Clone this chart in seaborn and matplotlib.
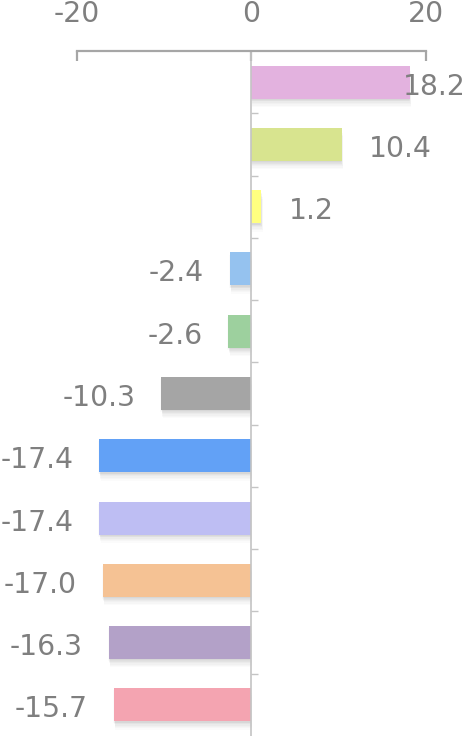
import matplotlib
matplotlib.use("Agg")
import matplotlib.pyplot as plt
import matplotlib.patheffects as pe
import matplotlib.transforms as mtransforms
import seaborn as sns
import pandas as pd

# Data
items = ["Item 1", "Item 2", "Item 3", "Item 4", "Item 5", "Item 6",
         "Item 7", "Item 8", "Item 9", "Item 10", "Item 11"]
values = [18.2, 10.4, 1.2, -2.4, -2.6, -10.3, -17.4, -17.4, -17.0, -16.3, -15.7]
colors = ["#E3B2DF", "#D8E48F", "#FFFF80", "#95C2EF", "#9DD09E", "#A5A5A5",
          "#62A1F6", "#BEBEF3", "#F5C294", "#B3A1C8", "#F4A4B1"]
x_ticks = [-20, 0, 20]

sns.set_theme(style="white")
plt.rcParams["font.family"] = ["DejaVu Sans"]
plt.rcParams["axes.unicode_minus"] = False

W, H = 468, 736
FS = 20.3
DY = -4.5 / 100
fig = plt.figure(figsize=(W / 100, H / 100), dpi=100)
ax = fig.add_axes([0, 0, 1, 685 / 736])

df = pd.DataFrame({"item": items, "value": values})
sns.barplot(data=df, x="value", y="item", hue="item", palette=colors,
            orient="h", width=0.53, dodge=False, legend=False, ax=ax,
            saturation=1)

# soft drop shadow under each bar
shadow = [pe.SimplePatchShadow(offset=(ox, -oy), shadow_rgbFace="black", alpha=a)
          for ox, oy, a in ((0, 1.0, 0.03), (0.3, 2.0, 0.03), (0.5, 3.0, 0.025),
                            (0.7, 4.0, 0.02), (0.9, 5.0, 0.02), (1.0, 6.0, 0.015),
                            (-0.8, 1.5, 0.015))]
for p in ax.patches:
    p.set_edgecolor("none")
    p.set_path_effects(shadow + [pe.Normal()])

ax.set_xlim(-28.77, 24.87)
ax.set_ylim(len(items) - 0.5, -0.5)
ax.set_xlabel("")
ax.set_ylabel("")

# top axis with bounded spine
for s in ["bottom", "right"]:
    ax.spines[s].set_visible(False)
ax.spines["top"].set_visible(True)
ax.spines["top"].set_bounds(-20, 20)
ax.spines["top"].set_color("#A6A6A6")
ax.spines["top"].set_linewidth(1.6)
ax.xaxis.tick_top()
ax.set_xticks(x_ticks)
ax.set_xticklabels([str(t) for t in x_ticks])
ax.tick_params(axis="x", which="major", direction="in", length=7, width=1.6,
               color="#A6A6A6", pad=16.5, labelsize=FS, labelcolor="#7F7F7F")

# zero line with category separators
ax.spines["left"].set_position(("data", 0))
ax.spines["left"].set_color("#C4C4C4")
ax.spines["left"].set_linewidth(1.2)
ax.set_yticks([i + 0.5 for i in range(len(items) - 1)])
ax.set_yticklabels([])
ax.tick_params(axis="y", direction="in", length=5, width=1.0, color="#C4C4C4",
               left=True)

# value labels
labels = []
for i, v in enumerate(values):
    dx = 27 / 100 if v >= 0 else -26 / 100
    tr = ax.transData + mtransforms.ScaledTranslation(dx, DY, fig.dpi_scale_trans)
    t = ax.text(v, i, f"{v:.1f}", transform=tr, ha="left" if v >= 0 else "right",
                va="center", fontsize=FS, color="#7F7F7F")
    labels.append((t, v, dx))

fig.canvas.draw()
r = fig.canvas.get_renderer()
for t, v, dx in labels:
    bb = t.get_window_extent(r)
    if bb.x1 > W - 2:
        ndx = dx - (bb.x1 - (W - 2)) / 100
        t.set_transform(ax.transData + mtransforms.ScaledTranslation(ndx, DY, fig.dpi_scale_trans))

fig.savefig("out.png", dpi=100)
